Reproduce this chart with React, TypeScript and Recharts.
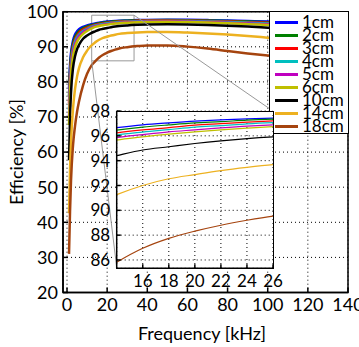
import React from "react";
import {
  CartesianGrid,
  Line,
  LineChart,
  ReferenceArea,
  ReferenceLine,
  XAxis,
  YAxis,
} from "recharts";

// frequency points (kHz)
const freqKHz = [1, 1.5, 2, 3, 4, 5, 6, 8, 10, 12, 14, 16, 18, 20, 22, 24, 26, 30, 35, 40, 50, 60, 70, 80, 90, 100, 110];

// efficiency [%] per coil distance
const eff1cm = [78, 85, 88.3, 91.8, 93.5, 94.4, 95.0, 95.7, 96.1, 96.4, 96.66, 96.88, 97.04, 97.18, 97.28, 97.36, 97.42, 97.5, 97.6, 97.65, 97.7, 97.68, 97.6, 97.5, 97.35, 97.2, 97.0];
const eff2cm = [76, 83.5, 87.2, 91, 92.8, 93.8, 94.5, 95.3, 95.8, 96.15, 96.46, 96.7, 96.88, 97.04, 97.14, 97.26, 97.34, 97.42, 97.52, 97.57, 97.6, 97.56, 97.47, 97.35, 97.18, 97.0, 96.8];
const eff3cm = [74, 82, 86, 90.1, 92.1, 93.2, 94, 94.9, 95.45, 95.9, 96.24, 96.48, 96.66, 96.86, 96.98, 97.1, 97.2, 97.3, 97.4, 97.46, 97.5, 97.44, 97.34, 97.2, 97.02, 96.82, 96.6];
const eff4cm = [72, 80.5, 84.9, 89.3, 91.5, 92.7, 93.5, 94.5, 95.1, 95.65, 96.06, 96.3, 96.5, 96.7, 96.82, 96.96, 97.06, 97.17, 97.28, 97.34, 97.38, 97.32, 97.2, 97.05, 96.85, 96.63, 96.4];
const eff5cm = [70, 79, 83.6, 88.3, 90.7, 92.1, 93, 94.1, 94.8, 95.4, 95.86, 96.1, 96.32, 96.48, 96.64, 96.78, 96.88, 97.02, 97.15, 97.22, 97.26, 97.18, 97.05, 96.88, 96.66, 96.42, 96.18];
const eff6cm = [67.7, 77, 82.3, 87.3, 89.9, 91.4, 92.4, 93.7, 94.5, 95.15, 95.66, 95.92, 96.14, 96.32, 96.48, 96.62, 96.74, 96.88, 97.02, 97.1, 97.14, 97.05, 96.9, 96.7, 96.46, 96.2, 95.95];
const eff10cm = [57.7, 70, 77, 84, 87.3, 89.3, 90.6, 92.3, 93.2, 93.9, 94.4, 94.86, 95.12, 95.38, 95.6, 95.78, 95.92, 96.1, 96.25, 96.35, 96.4, 96.35, 96.2, 96.0, 95.75, 95.45, 95.15];
const eff14cm = [42.6, 55, 63, 72.5, 78, 81.5, 84, 87, 88.9, 90.3, 91.26, 92.0, 92.54, 92.88, 93.2, 93.46, 93.68, 93.9, 94.1, 94.2, 94.2, 94.05, 93.8, 93.5, 93.1, 92.6, 92.1];
const eff18cm = [31, 43, 52, 62, 67.5, 71.5, 74.5, 79, 82.3, 84.5, 85.82, 86.94, 87.74, 88.32, 88.8, 89.2, 89.54, 89.9, 90.2, 90.4, 90.4, 90.05, 89.5, 88.8, 88.1, 87.5, 86.8];

const seriesNames = ["1cm", "2cm", "3cm", "4cm", "5cm", "6cm", "10cm", "14cm", "18cm"];
const seriesValues = [eff1cm, eff2cm, eff3cm, eff4cm, eff5cm, eff6cm, eff10cm, eff14cm, eff18cm];
const seriesColors = ["#0000ff", "#008000", "#ff0000", "#00bfbf", "#bf00bf", "#bfbf00", "#000000", "#edb120", "#a5440f"];

const mainXTicks = [0, 20, 40, 60, 80, 100, 120, 140];
const mainYTicks = [20, 30, 40, 50, 60, 70, 80, 90, 100];
const insetXTicks = [16, 18, 20, 22, 24, 26];
const insetYTicks = [86, 88, 90, 92, 94, 96, 98];

const rows = freqKHz.map((f, i) => {
  const row: Record<string, number> = { f };
  seriesNames.forEach((n, k) => (row[n] = seriesValues[k][i]));
  return row;
});

const FONT = "Lato, 'Open Sans', sans-serif";

export default function App() {
  return (
    <div style={{ position: "absolute", left: 0, top: 0, width: 359, height: 347, background: "#fff", fontFamily: FONT }}>
      {/* main plot */}
      <div style={{ position: "absolute", left: 0, top: 0 }}>
        <LineChart width={359} height={347} data={rows} margin={{ top: 11.7, right: 11, bottom: 24.5, left: 0 }}>
          <CartesianGrid stroke="#000" strokeDasharray="1 3" />
          <XAxis
            dataKey="f"
            type="number"
            domain={[-2, 140]}
            ticks={mainXTicks}
            interval={0}
            height={30}
            allowDataOverflow
            stroke="#000"
            strokeWidth={1.5}
            tickSize={-5}
            tickMargin={11}
            tick={{ fontSize: 18, fill: "#000", fontFamily: FONT }}
            label={() => (
              <text x={202} y={333} textAnchor="middle" dominantBaseline="central" fontSize={18} fontFamily={FONT} fill="#000">
                Frequency [kHz]
              </text>
            )}
          />
          <YAxis
            type="number"
            domain={[20, 100]}
            ticks={mainYTicks}
            interval={0}
            width={63}
            allowDataOverflow
            stroke="#000"
            strokeWidth={1.5}
            tickSize={-5}
            tickMargin={10}
            tick={{ fontSize: 18, fill: "#000", fontFamily: FONT }}
            label={() => (
              <text
                x={16}
                y={152}
                textAnchor="middle"
                dominantBaseline="central"
                fontSize={18}
                fontFamily={FONT}
                fill="#000"
                transform="rotate(-90 16 152)"
              >
                Efficiency [%]
              </text>
            )}
          />
          <ReferenceArea x1={-2} x2={140} y1={20} y2={100} fill="none" stroke="#000" strokeWidth={1.5} />
          {seriesNames.map((n, k) => (
            <Line
              key={n}
              dataKey={n}
              type="monotone"
              stroke={seriesColors[k]}
              strokeWidth={2.5}
              dot={false}
              isAnimationActive={false}
            />
          ))}
          <ReferenceArea x1={12.3} x2={33.4} y1={86} y2={99} fill="none" stroke="#999" strokeWidth={1} />
          <ReferenceLine
            segment={[{ x: 33.4, y: 99 }, { x: 102.6, y: 71.7 }]}
            stroke="#999"
            strokeWidth={1}
            ifOverflow="visible"
          />
          <ReferenceLine
            segment={[{ x: 12.3, y: 86 }, { x: 24.8, y: 26.9 }]}
            stroke="#999"
            strokeWidth={1}
            ifOverflow="visible"
          />
        </LineChart>
      </div>

      {/* legend */}
      <div
        style={{
          position: "absolute",
          left: 269,
          top: 11,
          width: 80,
          height: 123,
          boxSizing: "border-box",
          border: "1.5px solid #000",
          background: "#fff",
        }}
      >
        {seriesNames.map((n, k) => (
          <div key={n} style={{ position: "absolute", left: 0, top: k * 13, height: 20, width: 78 }}>
            <div style={{ position: "absolute", left: 5, top: 8.5, width: 23, height: 3, background: seriesColors[k] }} />
            <div style={{ position: "absolute", left: 32, top: 0, height: 20, lineHeight: "20px", fontSize: 17, color: "#000" }}>{n}</div>
          </div>
        ))}
      </div>

      {/* inset */}
      <div
        style={{
          position: "absolute",
          left: 116,
          top: 110.5,
          width: 157.5,
          height: 158.5,
          boxSizing: "border-box",
          border: "1.5px solid #000",
          background: "#fff",
        }}
      />
      <div style={{ position: "absolute", left: 0, top: 0 }}>
        <LineChart width={359} height={347} data={rows} margin={{ top: 111, right: 86, bottom: 53.7, left: 0 }}>
          <CartesianGrid stroke="#000" strokeDasharray="1 3" />
          <XAxis
            dataKey="f"
            type="number"
            domain={[14, 26]}
            ticks={insetXTicks}
            interval={0}
            height={25}
            allowDataOverflow
            stroke="#000"
            strokeWidth={1.5}
            tickSize={-4}
            tickMargin={10.5}
            tick={{ fontSize: 17, fill: "#000", fontFamily: FONT }}
          />
          <YAxis
            type="number"
            domain={[85.33, 98]}
            ticks={insetYTicks}
            interval={0}
            width={116.7}
            allowDataOverflow
            stroke="#000"
            strokeWidth={1.5}
            tickSize={-4}
            tickMargin={10.5}
            tick={{ fontSize: 17, fill: "#000", fontFamily: FONT }}
          />
          {seriesNames.map((n, k) => (
            <Line
              key={n}
              dataKey={n}
              type="monotone"
              stroke={seriesColors[k]}
              strokeWidth={1.2}
              dot={false}
              isAnimationActive={false}
            />
          ))}
        </LineChart>
      </div>
    </div>
  );
}
